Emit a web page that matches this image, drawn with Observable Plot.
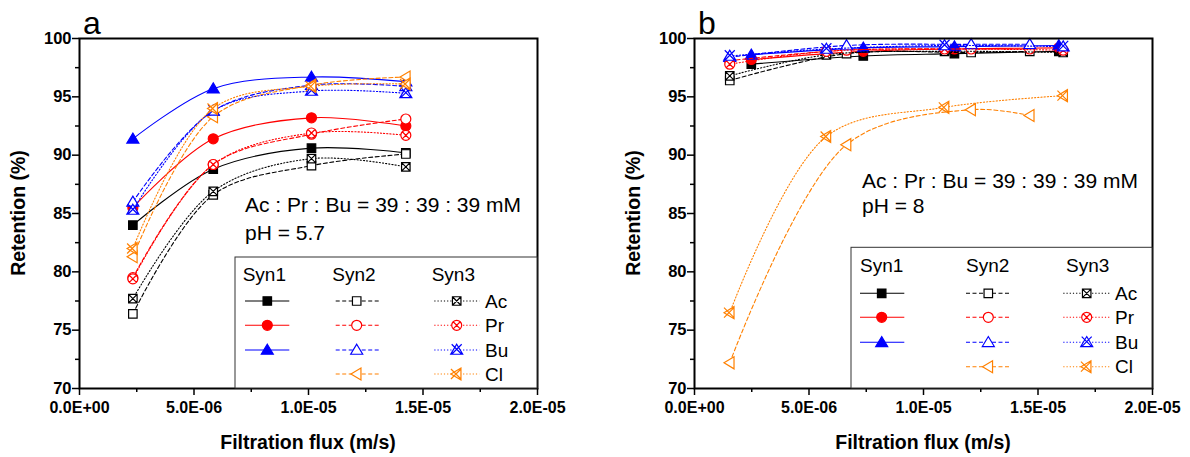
<!DOCTYPE html>
<html><head><meta charset="utf-8">
<script src="https://cdn.jsdelivr.net/npm/d3@7"></script>
<script src="https://cdn.jsdelivr.net/npm/@observablehq/plot@0.6"></script>
<style>
body{margin:0;background:#fff;}
#wrap{display:flex;width:1190px;height:457px;}
svg{font-family:"Liberation Sans",Arial,sans-serif;}
</style></head><body><div id="wrap"></div>
<script>
// ---- categories / styles ----
const ions = ["Ac","Pr","Bu","Cl"];
const ionColor = ["#000000","#ff0000","#0000ff","#ff8000"];
const ionShape = ["square","circle","triUp","triLeft"];
const synNames = ["Syn1","Syn2","Syn3"];
const synDash = [null, "4,2.5", "1.2,2"];

// ---- axis ticks ----
const yTicks = [70,75,80,85,90,95,100];
const yMinor = [72.5,77.5,82.5,87.5,92.5,97.5];
const xTicks = [0,5e-6,1e-5,1.5e-5,2e-5];
const xMinor = [2.5e-6,7.5e-6,1.25e-5,1.75e-5];

// ---- panel a (pH 5.7) ----
const a_flux = [2.33e-6, 5.84e-6, 1.013e-5, 1.425e-5];
const a_syn1_Ac = [84.0, 88.8, 90.6, 90.2];
const a_syn1_Pr = [85.5, 91.4, 93.2, 92.5];
const a_syn1_Bu = [91.4, 95.7, 96.7, 96.3];
const a_syn2_Ac = [76.4, 86.6, 89.1, 90.1];
const a_syn2_Pr = [79.5, 89.2, 91.8, 93.1];
const a_syn2_Bu = [86.0, 93.8, 96.0, 95.9];
const a_syn2_Cl = [81.3, 93.3, 96.0, 96.7];
const a_syn3_Ac = [77.7, 86.9, 89.7, 89.0];
const a_syn3_Pr = [79.4, 89.2, 91.9, 91.7];
const a_syn3_Bu = [85.3, 93.8, 95.5, 95.3];
const a_syn3_Cl = [82.0, 94.0, 95.9, 96.1];

// ---- panel b (pH 8) ----
const b_flux_syn1 = [2.48e-6, 7.37e-6, 1.135e-5, 1.591e-5];
const b_flux_syn2 = [1.54e-6, 6.64e-6, 1.208e-5, 1.464e-5];
const b_flux_syn3 = [1.54e-6, 5.76e-6, 1.092e-5, 1.61e-5];
const b_syn1_Ac = [97.8, 98.5, 98.7, 98.9];
const b_syn1_Pr = [98.2, 98.9, 99.1, 99.2];
const b_syn1_Bu = [98.6, 99.2, 99.3, 99.4];
const b_syn2_Ac = [96.4, 98.7, 98.8, 98.9];
const b_syn2_Pr = [98.1, 99.0, 99.1, 99.1];
const b_syn2_Bu = [98.4, 99.4, 99.5, 99.5];
const b_syn2_Cl = [72.2, 90.9, 93.9, 93.4];
const b_syn3_Ac = [96.8, 98.6, 98.9, 98.8];
const b_syn3_Pr = [97.8, 98.9, 99.1, 99.0];
const b_syn3_Bu = [98.5, 99.1, 99.4, 99.3];
const b_syn3_Cl = [76.5, 91.6, 94.1, 95.1];

const panelLabels = ["a","b"];
const conditionText = ["Ac : Pr : Bu = 39 : 39 : 39 mM"];
const phText = ["pH = 5.7","pH = 8"];
const xTitle = "Filtration flux (m/s)";
const yTitle = "Retention (%)";

const a_series = [
  ["Syn1","Ac",a_flux,a_syn1_Ac],["Syn1","Pr",a_flux,a_syn1_Pr],["Syn1","Bu",a_flux,a_syn1_Bu],
  ["Syn2","Ac",a_flux,a_syn2_Ac],["Syn2","Pr",a_flux,a_syn2_Pr],["Syn2","Bu",a_flux,a_syn2_Bu],["Syn2","Cl",a_flux,a_syn2_Cl],
  ["Syn3","Ac",a_flux,a_syn3_Ac],["Syn3","Pr",a_flux,a_syn3_Pr],["Syn3","Bu",a_flux,a_syn3_Bu],["Syn3","Cl",a_flux,a_syn3_Cl]
];
const b_series = [
  ["Syn1","Ac",b_flux_syn1,b_syn1_Ac],["Syn1","Pr",b_flux_syn1,b_syn1_Pr],["Syn1","Bu",b_flux_syn1,b_syn1_Bu],
  ["Syn2","Ac",b_flux_syn2,b_syn2_Ac],["Syn2","Pr",b_flux_syn2,b_syn2_Pr],["Syn2","Bu",b_flux_syn2,b_syn2_Bu],["Syn2","Cl",b_flux_syn2,b_syn2_Cl],
  ["Syn3","Ac",b_flux_syn3,b_syn3_Ac],["Syn3","Pr",b_flux_syn3,b_syn3_Pr],["Syn3","Bu",b_flux_syn3,b_syn3_Bu],["Syn3","Cl",b_flux_syn3,b_syn3_Cl]
];

// ---- custom symbols ----
function makeSym(shape, crossed){
  return {draw(ctx, size){
    const r = Math.sqrt(size/Math.PI);
    if (shape==="square"){
      const s=r*0.85; ctx.moveTo(-s,-s); ctx.lineTo(s,-s); ctx.lineTo(s,s); ctx.lineTo(-s,s); ctx.closePath();
      if (crossed){ ctx.moveTo(-s,-s); ctx.lineTo(s,s); ctx.moveTo(s,-s); ctx.lineTo(-s,s); }
    } else if (shape==="circle"){
      ctx.moveTo(r,0); ctx.arc(0,0,r,0,2*Math.PI); ctx.closePath();
      if (crossed){ const c=r*0.707; ctx.moveTo(-c,-c); ctx.lineTo(c,c); ctx.moveTo(c,-c); ctx.lineTo(-c,c); }
    } else if (shape==="triUp"){
      ctx.moveTo(0,-r*1.15); ctx.lineTo(r*1.2,r*0.85); ctx.lineTo(-r*1.2,r*0.85); ctx.closePath();
      if (crossed){ ctx.moveTo(-r,-r*1.15); ctx.lineTo(r,r*0.85); ctx.moveTo(r,-r*1.15); ctx.lineTo(-r,r*0.85); }
    } else {
      ctx.moveTo(-r*1.15,0); ctx.lineTo(r*0.85,-r*1.2); ctx.lineTo(r*0.85,r*1.2); ctx.closePath();
      if (crossed){ ctx.moveTo(-r*1.15,-r); ctx.lineTo(r*0.85,r); ctx.moveTo(-r*1.15,r); ctx.lineTo(r*0.85,-r); }
    }
  }};
}

const fmtE = d => { const [m,e] = (+d).toExponential(1).split("e"); const n=Math.abs(+e); return `${m}E${(+e)<0?"-":"+"}${String(n).padStart(2,"0")}`; };

function seriesMarks(list){
  const marks=[];
  for (const [syn, ion, xs, ys] of list){
    const si = synNames.indexOf(syn), ii = ions.indexOf(ion);
    const rows = xs.map((x,i)=>({x, y: ys[i]}));
    const color = ionColor[ii];
    const lo = {x:"x",y:"y",stroke:color,strokeWidth:1.1,curve:"catmull-rom"};
    if (synDash[si]) lo.strokeDasharray = synDash[si];
    marks.push(Plot.line(rows, lo));
    marks.push(Plot.dot(rows,{x:"x",y:"y",r:5,symbol:makeSym(ionShape[ii], si===2),stroke:color,strokeWidth:1.2,fill: si===0?color:"white"}));
  }
  return marks;
}

function panel(series, marginLeft, idx, L){
  const W = 595, plotW = 458;
  const svg = Plot.plot({
    width: W, height: 457,
    marginLeft, marginRight: W - marginLeft - plotW, marginTop: 38, marginBottom: 69,
    x: {domain:[0,2e-5]}, y: {domain:[70,100]},
    style: {fontFamily:"Liberation Sans, Arial, sans-serif", fontSize:"16px", background:"white", overflow:"visible"},
    marks: [
      ...seriesMarks(series),
      Plot.axisY(yTicks,{tickSize:7, tickPadding:1, strokeWidth:1.5, fontWeight:"bold", fontSize:16.5, label:null}),
      Plot.axisY(yMinor,{tickSize:4, strokeWidth:1.5, tickFormat:()=>"", label:null}),
      Plot.axisX(xTicks,{tickSize:7, tickPadding:6, strokeWidth:1.5, fontWeight:"bold", fontSize:16, tickFormat:fmtE, label:null}),
      Plot.axisX(xMinor,{tickSize:4, strokeWidth:1.5, tickFormat:()=>"", label:null}),
      Plot.frame({stroke:"black", strokeWidth:2})
    ]
  });
  const g = d3.select(svg).append("g").attr("font-family","Liberation Sans, Arial, sans-serif")
    .attr("fill","black").attr("text-anchor","start");
  g.append("text").attr("x", marginLeft+4).attr("y", 34).attr("font-size", 32).text(panelLabels[idx]);
  g.append("text").attr("transform",`translate(${marginLeft-61},213) rotate(-90)`).attr("text-anchor","middle")
    .attr("dy","0.35em").attr("font-size",19.5).attr("font-weight","bold").text(yTitle);
  g.append("text").attr("x", marginLeft+plotW/2).attr("y", 449).attr("text-anchor","middle")
    .attr("font-size",19.5).attr("font-weight","bold").text(xTitle);
  g.append("text").attr("x", L.tx).attr("y", L.ty1).attr("font-size",21).text(conditionText[0]);
  g.append("text").attr("x", L.tx).attr("y", L.ty2).attr("font-size",21).text(phText[idx]);
  // legend box
  g.append("rect").attr("x", L.bx).attr("y", L.by).attr("width", marginLeft+plotW-L.bx).attr("height", 388-L.by)
    .attr("fill","white").attr("stroke","#333").attr("stroke-width",1);
  synNames.forEach((s,si)=>{
    g.append("text").attr("x", L.hx[si]).attr("y", L.hy).attr("dy","0.35em").attr("font-size",19).text(s);
    ions.forEach((ion,ii)=>{
      if (si===0 && ion==="Cl") return;
      const y = L.rows[ii];
      const [x0,x1,xm] = L.sym[si];
      const ln = g.append("line").attr("x1",x0).attr("x2",x1).attr("y1",y).attr("y2",y)
        .attr("stroke",ionColor[ii]).attr("stroke-width",1.1);
      if (synDash[si]) ln.attr("stroke-dasharray", synDash[si]);
      g.append("path").attr("transform",`translate(${xm},${y})`)
        .attr("d", d3.symbol().type(makeSym(ionShape[ii], si===2)).size(Math.PI*25)())
        .attr("fill", si===0?ionColor[ii]:"white").attr("stroke",ionColor[ii]).attr("stroke-width",1.2);
      if (si===2) g.append("text").attr("x", L.lx).attr("y", y).attr("dy","0.35em").attr("font-size",19).text(ion);
    });
  });
  return svg;
}

const wrap = document.getElementById("wrap");
wrap.appendChild(panel(a_series, 79, 0, {
  tx:245, ty1:211.5, ty2:240, bx:235, by:257, hx:[242.7,332.3,431.7], hy:274.3,
  rows:[301,325.3,350,374], sym:[[245,289.3,267.3],[335.7,380.7,356.7],[434.3,479.3,456.7]], lx:485
}));
wrap.appendChild(panel(b_series, 99, 1, {
  tx:267, ty1:188, ty2:213, bx:256, by:247.3, hx:[265,371,471], hy:265,
  rows:[293.3,317.3,342.3,366.7], sym:[[265,309.3,286.7],[371,416,393.3],[468.3,515,491.7]], lx:520
}));
</script></body></html>
